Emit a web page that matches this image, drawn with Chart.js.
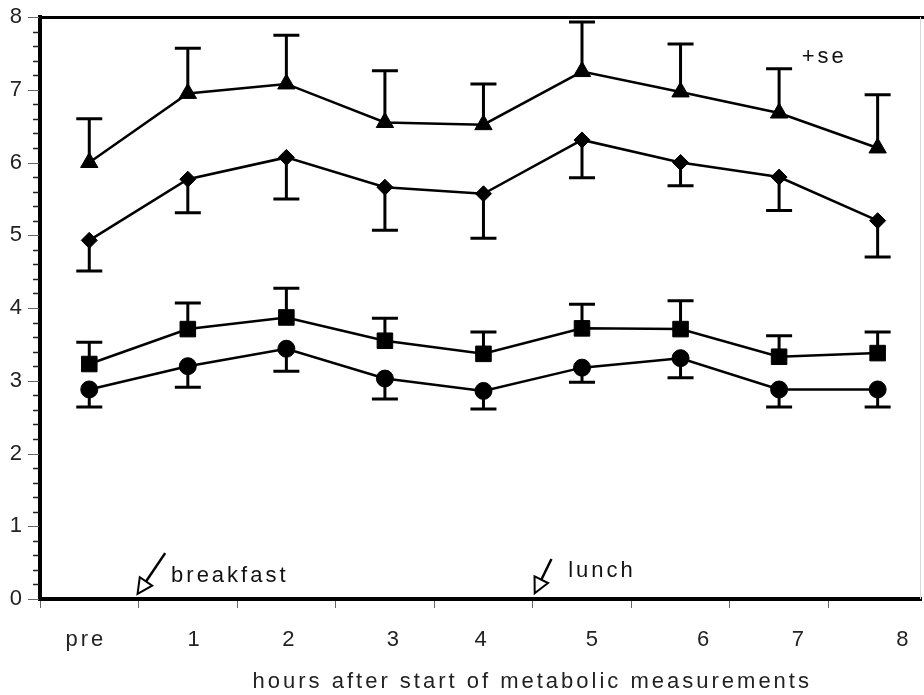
<!DOCTYPE html>
<html><head><meta charset="utf-8">
<script src="https://cdn.jsdelivr.net/npm/chart.js@4/dist/chart.umd.min.js"></script>
<style>html,body{margin:0;padding:0;background:#fff}#wrap{width:924px;height:695px}</style>
</head><body><div id="wrap"><canvas id="c" width="924" height="695"></canvas></div>
<script>
// ---- data ----
const categories = ['pre', '1', '2', '3', '4', '5', '6', '7', '8'];
const triangleMean = [6.00, 6.95, 7.08, 6.55, 6.52, 7.25, 6.97, 6.68, 6.20];
const triangleSE   = [0.60, 0.62, 0.67, 0.71, 0.56, 0.68, 0.66, 0.61, 0.73];
const diamondMean  = [4.93, 5.77, 6.07, 5.66, 5.57, 6.31, 6.00, 5.80, 5.20];
const diamondSE    = [0.42, 0.46, 0.57, 0.59, 0.61, 0.52, 0.32, 0.46, 0.50];
const squareMean   = [3.23, 3.71, 3.87, 3.55, 3.37, 3.72, 3.71, 3.33, 3.38];
const squareSE     = [0.30, 0.36, 0.40, 0.31, 0.30, 0.33, 0.39, 0.29, 0.29];
const circleMean   = [2.88, 3.20, 3.44, 3.03, 2.86, 3.18, 3.31, 2.88, 2.88];
const circleSE     = [0.24, 0.29, 0.31, 0.28, 0.25, 0.20, 0.27, 0.24, 0.24];
// x-axis tick label anchor (hours scale units) as printed
const xTickLabelAt = [0.45, 1.56, 2.52, 3.58, 4.47, 5.60, 6.73, 7.69, 8.75];
const yTickValues  = [0, 1, 2, 3, 4, 5, 6, 7, 8];
const xTitle = 'hours after start of metabolic measurements';
const notes = [
  {text: 'breakfast', x: 1.33, y: 0.23},
  {text: 'lunch', x: 5.36, y: 0.30},
  {text: '+se', x: 7.73, y: 7.37}
];
const arrows = [
  {tailX: 1.27, tailY: 0.63, tipX: 0.99, tipY: 0.07},
  {tailX: 5.19, tailY: 0.55, tipX: 5.02, tipY: 0.08}
];

const FONT = '"Liberation Sans", Arial, Helvetica, sans-serif';

function pts(mean) { return mean.map((v, i) => ({x: i + 0.5, y: v})); }
function ds(mean, style, r) {
  return {
    data: pts(mean), borderColor: '#000', borderWidth: 2.5, tension: 0,
    pointStyle: style, pointRadius: r, pointHoverRadius: r,
    pointBackgroundColor: '#000', pointBorderColor: '#000', pointBorderWidth: 1,
    clip: false, fill: false
  };
}
const errorSets = [
  {mean: triangleMean, se: triangleSE, dir: 1},
  {mean: diamondMean, se: diamondSE, dir: -1},
  {mean: squareMean, se: squareSE, dir: 1},
  {mean: circleMean, se: circleSE, dir: -1}
];

const overlay = {
  id: 'overlay',
  beforeDatasetsDraw(chart) {
    const ctx = chart.ctx, xs = chart.scales.x, ys = chart.scales.y;
    ctx.save();
    ctx.strokeStyle = '#000'; ctx.lineWidth = 3; ctx.lineCap = 'butt';
    errorSets.forEach(s => {
      s.mean.forEach((m, i) => {
        const px = xs.getPixelForValue(i + 0.5);
        const y0 = ys.getPixelForValue(m);
        const y1 = ys.getPixelForValue(m + s.dir * s.se[i]);
        ctx.beginPath();
        ctx.moveTo(px, y0); ctx.lineTo(px, y1);
        ctx.moveTo(px - 13, y1); ctx.lineTo(px + 13, y1);
        ctx.stroke();
      });
    });
    ctx.restore();
  },
  afterDraw(chart) {
    const ctx = chart.ctx, xs = chart.scales.x, ys = chart.scales.y, ca = chart.chartArea;
    ctx.save();
    // frame: top line and faint right line
    ctx.strokeStyle = '#000'; ctx.lineWidth = 3;
    ctx.beginPath(); ctx.moveTo(ca.left - 2, ca.top + 0.5); ctx.lineTo(chart.width, ca.top + 0.5); ctx.stroke();
    ctx.strokeStyle = '#d8d8d8'; ctx.lineWidth = 1;
    ctx.beginPath(); ctx.moveTo(ca.right - 0.5, ca.top); ctx.lineTo(ca.right - 0.5, ca.bottom); ctx.stroke();
    // y ticks: major (integers) and minor (0.2)
    for (let k = 0; k <= 40; k++) {
      const v = k / 5;
      const py = Math.round(ys.getPixelForValue(v)) + 0.5;
      const major = k % 5 === 0;
      ctx.strokeStyle = major ? '#666' : '#222';
      ctx.lineWidth = major ? 1 : 1.5;
      ctx.beginPath(); ctx.moveTo(ca.left - (major ? 12 : 7), py); ctx.lineTo(ca.left - 1, py); ctx.stroke();
    }
    // x tick labels
    ctx.fillStyle = '#222';
    ctx.font = '22px ' + FONT;
    ctx.letterSpacing = '3px';
    ctx.textAlign = 'center'; ctx.textBaseline = 'middle';
    categories.forEach((c, i) => {
      ctx.fillText(c, xs.getPixelForValue(xTickLabelAt[i]) + 1.5, ca.bottom + 41);
    });
    // axis title
    ctx.fillText(xTitle, xs.getPixelForValue(4.98) + 1.5, ca.bottom + 83);
    // annotations
    ctx.textAlign = 'left'; ctx.textBaseline = 'alphabetic';
    ctx.fillStyle = '#111';
    notes.forEach(n => ctx.fillText(n.text, xs.getPixelForValue(n.x), ys.getPixelForValue(n.y)));
    // arrows with open heads
    arrows.forEach(a => {
      const tx = xs.getPixelForValue(a.tailX), ty = ys.getPixelForValue(a.tailY);
      const hx = xs.getPixelForValue(a.tipX), hy = ys.getPixelForValue(a.tipY);
      const ang = Math.atan2(hy - ty, hx - tx);
      const L = 15, W = 7.5;
      const bx = hx - Math.cos(ang) * L, by = hy - Math.sin(ang) * L;
      ctx.strokeStyle = '#000'; ctx.lineWidth = 2.5;
      ctx.beginPath(); ctx.moveTo(tx, ty); ctx.lineTo(bx, by); ctx.stroke();
      ctx.beginPath();
      ctx.moveTo(hx, hy);
      ctx.lineTo(bx + Math.sin(ang) * W, by - Math.cos(ang) * W);
      ctx.lineTo(bx - Math.sin(ang) * W, by + Math.cos(ang) * W);
      ctx.closePath();
      ctx.fillStyle = '#fff'; ctx.fill();
      ctx.lineWidth = 2; ctx.stroke();
    });
    ctx.restore();
  }
};

new Chart(document.getElementById('c'), {
  type: 'line',
  data: {
    datasets: [
      ds(triangleMean, 'triangle', 10),
      ds(diamondMean, 'rectRot', 8),
      ds(squareMean, 'rect', 11),
      ds(circleMean, 'circle', 8.5)
    ]
  },
  options: {
    responsive: false, animation: false, devicePixelRatio: 1,
    layout: {autoPadding: false, padding: {top: 17, right: 3, left: 0, bottom: 0}},
    plugins: {legend: {display: false}, tooltip: {enabled: false}},
    scales: {
      x: {
        type: 'linear', min: 0, max: 8.94,
        afterFit: s => { s.height = 96; s.paddingLeft = 0; s.paddingRight = 0; },
        afterBuildTicks: s => { s.ticks = s.ticks.filter(t => Number.isInteger(t.value)); },
        ticks: {display: false, stepSize: 1},
        grid: {display: true, drawOnChartArea: false, drawTicks: true, tickLength: 9, tickColor: '#666', tickWidth: 1},
        border: {display: true, width: 4, color: '#000'}
      },
      y: {
        type: 'linear', min: 0, max: 8,
        afterFit: s => { s.width = 40; s.paddingTop = 0; s.paddingBottom = 0; },
        afterBuildTicks: s => { s.ticks = yTickValues.map(v => ({value: v})); },
        ticks: {stepSize: 1, padding: 18, color: '#222', font: {family: FONT, size: 22}},
        grid: {display: true, drawOnChartArea: false, drawTicks: false},
        border: {display: true, width: 4, color: '#000'}
      }
    }
  },
  plugins: [overlay]
});
</script>
</body></html>
